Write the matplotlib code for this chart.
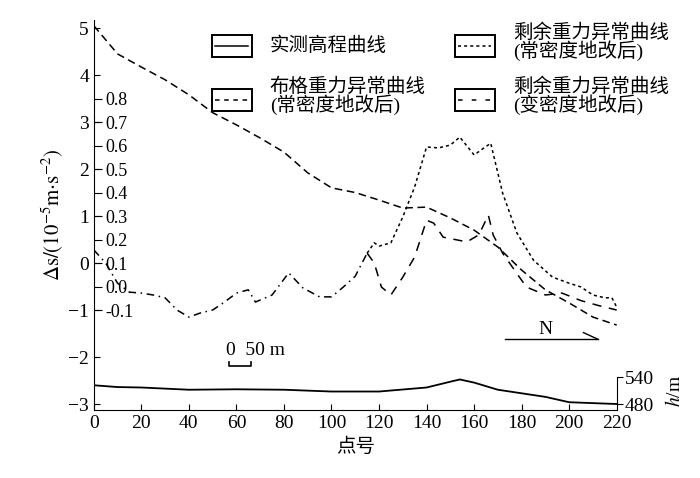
import matplotlib
matplotlib.use("Agg")
import matplotlib.pyplot as plt
from matplotlib.patches import Rectangle

plt.rcParams['font.family'] = ['Liberation Serif', 'Noto Sans CJK SC']
plt.rcParams['mathtext.fontset'] = 'stix'

# Bouguer anomaly (main axis, 10^-5 m/s^2)
bg_x = [0, 5, 10, 20, 30, 40, 50, 60, 70, 80, 90, 100, 110, 120, 130, 140, 150, 160, 170, 180, 190, 200, 210, 220]
bg_y = [5.05, 4.75, 4.45, 4.17, 3.9, 3.58, 3.2, 2.94, 2.66, 2.36, 1.92, 1.6, 1.5, 1.34, 1.17, 1.19, 0.96, 0.7, 0.34, -0.15, -0.57, -0.85, -1.15, -1.32]

# Residual anomaly (residual axis), common section
com_x = [0, 5, 10, 15, 20, 25, 30, 35, 40, 45, 50, 55, 60, 65, 68, 75, 82, 88, 95, 100, 105, 110, 115]
com_y = [0.156, 0.1, 0.014, -0.024, -0.028, -0.036, -0.048, -0.1, -0.13, -0.112, -0.1, -0.066, -0.028, -0.014, -0.066, -0.036, 0.058, -0.006, -0.044, -0.044, -0.002, 0.044, 0.142]
# constant density
cst_x = [115, 118, 120, 125, 130, 135, 140, 145, 150, 154, 160, 167, 172, 178, 185, 193, 200, 205, 210, 215, 218, 220]
cst_y = [0.142, 0.186, 0.172, 0.186, 0.296, 0.424, 0.594, 0.59, 0.602, 0.636, 0.56, 0.61, 0.398, 0.228, 0.112, 0.04, 0.014, -0.002, -0.036, -0.048, -0.048, -0.088]
# variable density
var_x = [115, 118, 121, 125, 130, 135, 140, 143, 147, 152, 157, 162, 166, 168, 172, 177, 182, 190, 197, 205, 212, 220]
var_y = [0.142, 0.1, -0.002, -0.036, 0.04, 0.126, 0.282, 0.27, 0.21, 0.2, 0.19, 0.22, 0.304, 0.22, 0.142, 0.07, -0.002, -0.036, -0.028, -0.06, -0.08, -0.1]

# Elevation (m)
el_x = [0, 10, 20, 40, 60, 80, 100, 120, 140, 150, 154, 160, 170, 180, 190, 200, 210, 220]
el_y = [522, 518, 517, 512, 513, 512, 508, 508, 517, 530, 535, 528, 512, 504, 496, 484, 482, 480]

res_ticks = [-0.1, 0.0, 0.1, 0.2, 0.3, 0.4, 0.5, 0.6, 0.7, 0.8]

fig = plt.figure(figsize=(7, 4.78), dpi=100)
ax = fig.add_axes([0.134, 0.142, 0.747, 0.816])
ylo, yhi = -3.13, 5.17
ax.set_xlim(0, 220)
ax.set_ylim(ylo, yhi)
for s in ['top', 'right']:
    ax.spines[s].set_visible(False)
ax.set_xticks(range(0, 221, 20))
ax.set_yticks(range(-3, 6))
ax.tick_params(direction='in', labelsize=14, length=4)
ax.set_xlabel('点号', fontsize=14)
ax.set_ylabel(r'$\Delta\mathrm{s}/(10^{-5}\mathrm{m{\cdot}s^{-2}})$', fontsize=15, labelpad=2)
ax.plot(bg_x, bg_y, color='k', lw=1.1, linestyle=(0, (5, 3)))

ax2 = ax.twinx()
ax2.set_ylim((ylo + 0.5) / 5, (yhi + 0.5) / 5)
for s in ax2.spines.values():
    s.set_visible(False)
ax2.yaxis.tick_left()
ax2.set_yticks(res_ticks)
ax2.set_yticklabels(['%.1f' % t for t in res_ticks])
ax2.tick_params(axis='y', direction='in', length=6, pad=-8, labelsize=13)
for lb in ax2.get_yticklabels():
    lb.set_ha('left')
ax2.plot(com_x, com_y, color='k', lw=1.1, linestyle=(0, (5, 3, 1, 3)))
ax2.plot(cst_x, cst_y, color='k', lw=1.1, linestyle=(0, (2, 2)))
ax2.plot(var_x, var_y, color='k', lw=1.1, linestyle=(0, (6, 5)))

ax3 = ax.twinx()
ax3.set_ylim(480 + 105.3 * (ylo + 3), 480 + 105.3 * (yhi + 3))
for s in ['top', 'left', 'bottom']:
    ax3.spines[s].set_visible(False)
ax3.spines['right'].set_bounds(480, 540)
ax3.set_yticks([480, 540])
ax3.tick_params(axis='y', direction='out', length=4, labelsize=14, pad=2)
ax3.plot(el_x, el_y, color='k', lw=1.3)
ax3.text(1.11, 510, '$h$/m', transform=ax3.get_yaxis_transform(),
         rotation=90, va='center', ha='center', fontsize=14)

# scale bar
ax.plot([57, 57, 66, 66], [-2.1, -2.2, -2.2, -2.1], color='k', lw=1.2)
ax.text(55.5, -1.95, '0  50 m', fontsize=14)
# north arrow
ax.plot([173, 212], [-1.62, -1.62], color='k', lw=1)
ax.plot([206, 212], [-1.48, -1.62], color='k', lw=1)
ax.text(190, -1.5, 'N', fontsize=14, ha='center')

# legend
def key(x0, y0, ls, label, ty):
    ax.add_patch(Rectangle((x0, y0 - 0.23), 16.8, 0.46, fill=False, ec='k', lw=1.4, clip_on=False))
    ax.plot([x0 + 1.5, x0 + 15.3], [y0, y0], color='k', lw=1.1, linestyle=ls)
    ax.text(x0 + 24.5, ty, label, fontsize=14, va='center', linespacing=0.95)

key(49.6, 4.62, '-', '实测高程曲线', 4.62)
key(49.6, 3.47, (0, (3, 3)), '布格重力异常曲线\n(常密度地改后)', 3.55)
key(151.9, 4.62, (0, (2, 2)), '剩余重力异常曲线\n(常密度地改后)', 4.70)
key(151.9, 3.47, (0, (3, 6)), '剩余重力异常曲线\n(变密度地改后)', 3.55)

fig.savefig('out.png', dpi=100)
